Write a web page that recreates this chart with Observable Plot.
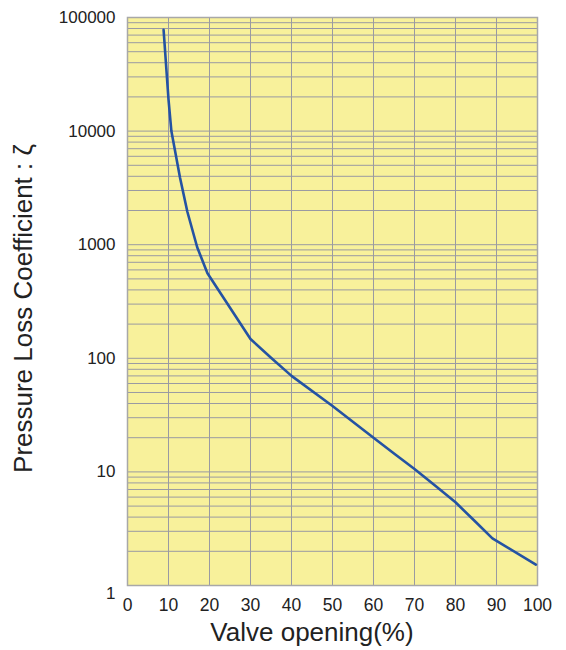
<!DOCTYPE html>
<html>
<head>
<meta charset="utf-8">
<script src="https://cdn.jsdelivr.net/npm/d3@7"></script>
<script src="https://cdn.jsdelivr.net/npm/@observablehq/plot@0.6"></script>
<style>
  html, body { margin: 0; padding: 0; background: #fff; }
</style>
</head>
<body>
<div id="chart"></div>
<script>
// Data
const opening = [8.8, 10, 10.7, 12.8, 14.6, 17, 19.5, 30, 35, 40, 50, 60, 65, 70, 75, 80, 85, 89, 99.6];
const zeta    = [78000, 19000, 10000, 3900, 1950, 950, 560, 148, 101, 70, 38, 20, 14.5, 10.6, 7.6, 5.4, 3.6, 2.6, 1.53];
const xTicks = [0, 10, 20, 30, 40, 50, 60, 70, 80, 90, 100];
const yTicks = [1, 10, 100, 1000, 10000, 100000];
const xTitle = "Valve opening(%)";
const yTitle = "Pressure Loss Coefficient : ζ";

const rows = opening.map((x, i) => ({x, y: zeta[i]}));
const yGrid = d3.range(0, 5).flatMap(e => d3.range(1, 10).map(m => m * 10 ** e)).concat([100000]);

const font = "'Liberation Sans', Arial, sans-serif";
const chart = Plot.plot({
  width: 566,
  height: 650,
  marginLeft: 127,
  marginRight: 29,
  marginTop: 17,
  marginBottom: 65,
  style: {fontFamily: font, fontSize: "17px", color: "#222", background: "#fff"},
  x: {domain: [0, 100]},
  y: {type: "log", domain: [1, 100000]},
  marks: [
    Plot.frame({fill: "#f8f19b"}),
    Plot.ruleY(yGrid, {stroke: "#9a9aa2", strokeWidth: 1}),
    Plot.ruleX(xTicks, {stroke: "#9a9aa2", strokeWidth: 1}),
    Plot.frame({stroke: "#a8a8a8", strokeWidth: 1.5}),
    Plot.line(rows, {x: "x", y: "y", stroke: "#2553a3", strokeWidth: 2.6, curve: "linear", strokeLinejoin: "round"}),
    Plot.axisX({ticks: xTicks, tickSize: 0, tickPadding: 13.5, label: null, fontSize: 17.5}),
    Plot.axisY({ticks: yTicks.slice(1), tickSize: 0, tickPadding: 12, tickFormat: d => String(d), label: null, fontSize: 17}),
    Plot.axisY({ticks: [1], tickSize: 0, tickPadding: 12, tickFormat: d => String(d), label: null, fontSize: 17, dy: 8}),
    Plot.text([xTitle], {frameAnchor: "bottom", lineAnchor: "middle", dx: -20.5, dy: 47, fontSize: 26, fill: "#222"}),
    Plot.text([yTitle], {frameAnchor: "left", textAnchor: "middle", lineAnchor: "middle", dx: -104, dy: 7, rotate: -90, fontSize: 26, fill: "#222"})
  ]
});
document.getElementById("chart").appendChild(chart);
</script>
</body>
</html>
